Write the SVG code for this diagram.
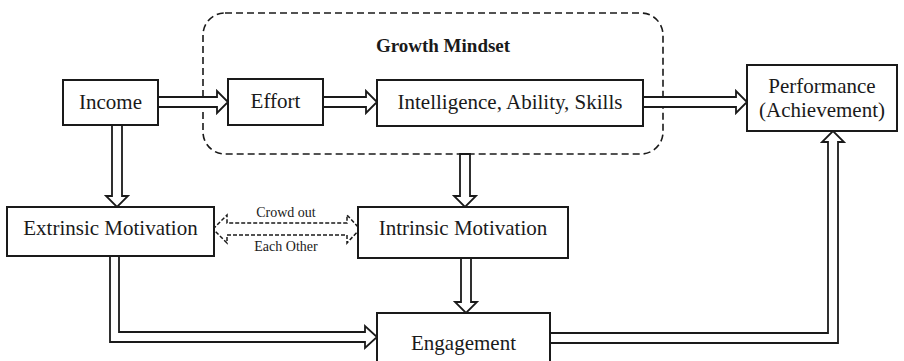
<svg xmlns="http://www.w3.org/2000/svg" width="904" height="361" viewBox="0 0 904 361">
  <style>
    .box { fill: #ffffff; stroke: #1a1a1a; stroke-width: 2; }
    .label { font-family: "Liberation Serif", "Times New Roman", serif; font-size: 21px; fill: #1a1a1a; text-anchor: middle; }
    .small { font-family: "Liberation Serif", "Times New Roman", serif; font-size: 14px; fill: #1a1a1a; text-anchor: middle; }
    .title { font-family: "Liberation Serif", "Times New Roman", serif; font-size: 19px; font-weight: bold; fill: #1a1a1a; text-anchor: middle; }
    .group { fill: none; stroke: #1a1a1a; stroke-width: 1.6; stroke-dasharray: 7 4; }
    .hollow { fill: #ffffff; stroke: #1a1a1a; stroke-width: 1.8; stroke-linejoin: miter; }
    .dashed { fill: #ffffff; stroke: #1a1a1a; stroke-width: 1.5; stroke-dasharray: 4 2; }
  </style>
  <rect width="904" height="361" fill="#ffffff"/>

  <!-- growth mindset cluster -->
  <g id="growth-mindset">
    <rect class="group" x="203" y="13" width="460" height="141" rx="22" ry="22"/>
    <text class="title" x="443" y="52">Growth Mindset</text>
  </g>

  <!-- hollow double-line connectors -->
  <g id="connectors">
    <polygon class="hollow" points="158,97 217,97 217,91 228,102 217,113 217,107 158,107"/>
    <polygon class="hollow" points="323,97 366,97 366,91 377,102 366,113 366,107 323,107"/>
    <polygon class="hollow" points="643,97 736,97 736,91 747,102 736,113 736,107 643,107"/>
    <polygon class="hollow" points="112,125 112,196 106,196 117,207 128,196 122,196 122,125"/>
    <polygon class="hollow" points="460,154 460,196 454,196 465,207 476,196 470,196 470,154"/>
    <polygon class="hollow" points="461,258 461,302 455,302 466,313 477,302 471,302 471,258"/>
    <polygon class="hollow" points="110,256 110,342 365,342 365,348 377,337 365,326 365,332 119,332 119,256"/>
    <polygon class="hollow" points="550,333 828,333 828,142 822,142 833,131 844,142 838,142 838,343 550,343"/>
    <polygon class="dashed" points="213,229 227,215 227,223 347,223 347,215 360,229 347,243 347,235 227,235 227,243"/>
    <text class="small" x="286" y="217">Crowd out</text>
    <text class="small" x="286" y="251">Each Other</text>
  </g>

  <g id="income">
    <rect class="box" x="63" y="80" width="95" height="45"/>
    <text class="label" x="110.5" y="109">Income</text>
  </g>
  <g id="effort">
    <rect class="box" x="228" y="79" width="95" height="46"/>
    <text class="label" x="275.5" y="108">Effort</text>
  </g>
  <g id="intelligence">
    <rect class="box" x="377" y="80" width="266" height="46"/>
    <text class="label" x="510" y="109">Intelligence, Ability, Skills</text>
  </g>
  <g id="performance">
    <rect class="box" x="747" y="65" width="150" height="66"/>
    <text class="label" x="822" y="93">Performance</text>
    <text class="label" x="822" y="117">(Achievement)</text>
  </g>
  <g id="extrinsic">
    <rect class="box" x="7" y="207" width="207" height="49"/>
    <text class="label" x="110.5" y="235">Extrinsic Motivation</text>
  </g>
  <g id="intrinsic">
    <rect class="box" x="358" y="207" width="210" height="51"/>
    <text class="label" x="463" y="235">Intrinsic Motivation</text>
  </g>
  <g id="engagement">
    <rect class="box" x="377" y="313" width="173" height="60"/>
    <text class="label" x="463.5" y="350">Engagement</text>
  </g>
</svg>
